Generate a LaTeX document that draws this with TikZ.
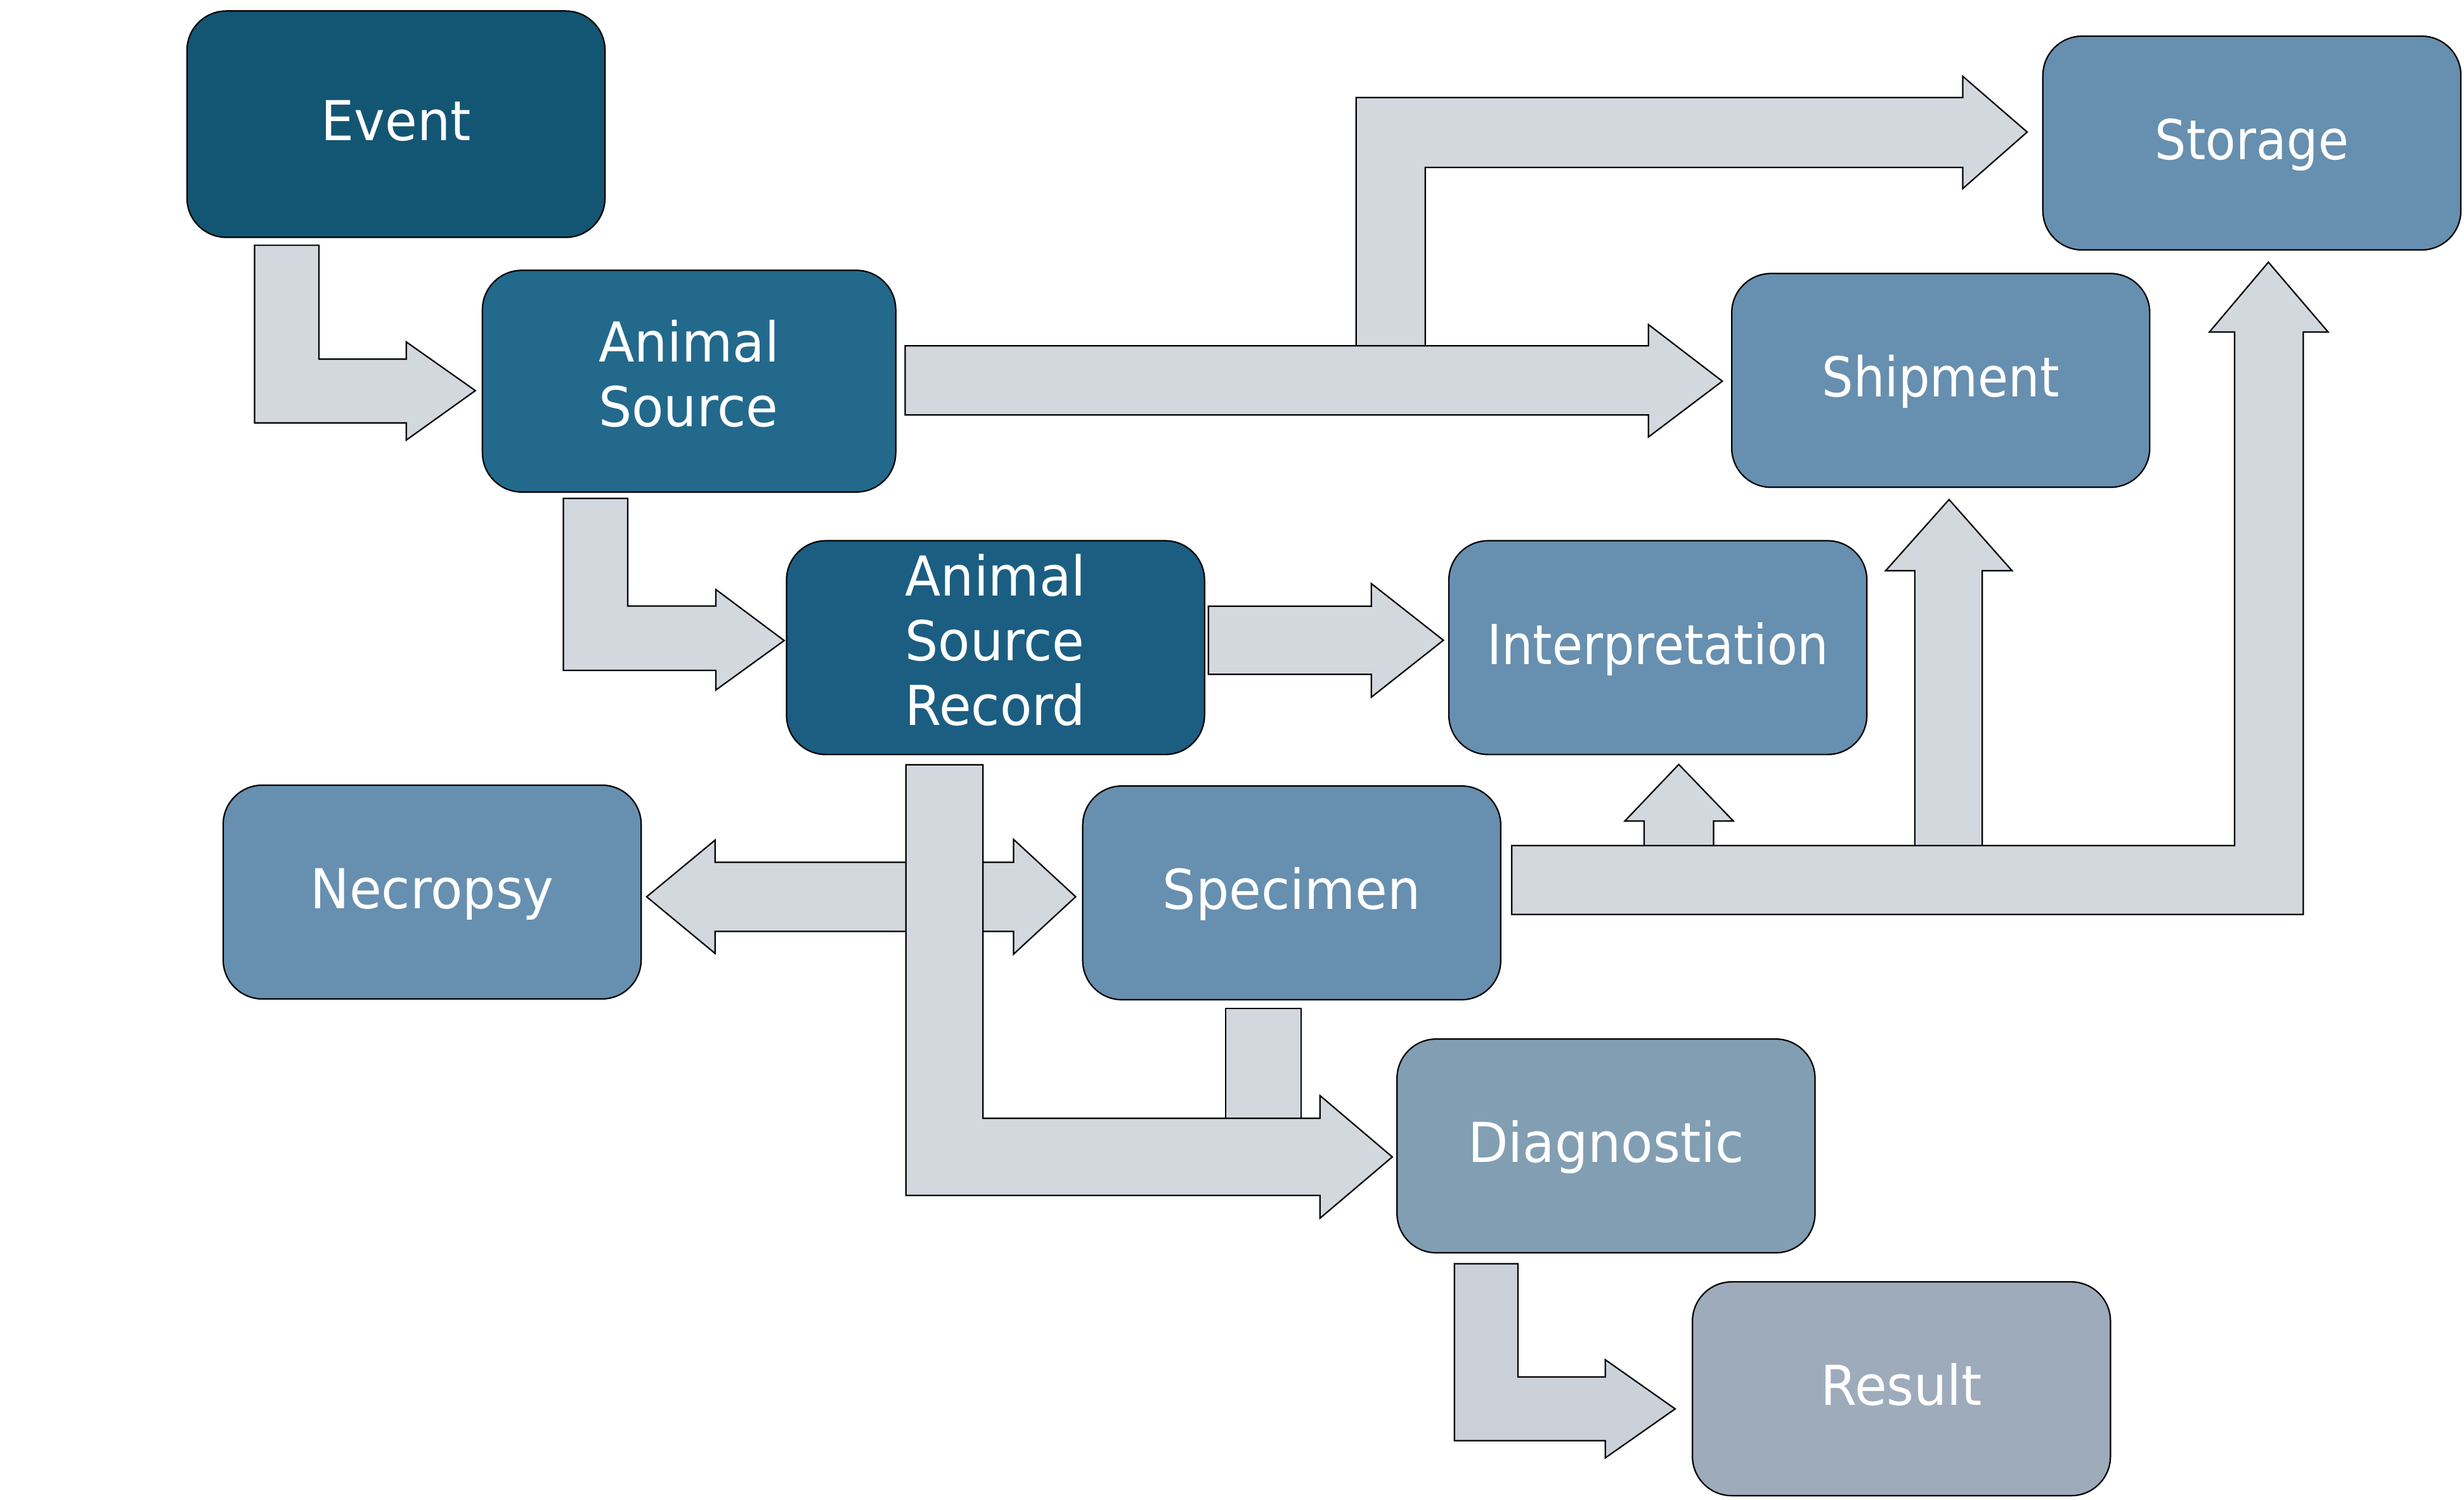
\documentclass[tikz,border=0pt]{standalone}
\usepackage{fontspec}
\setmainfont{DejaVu Sans}[FakeStretch=0.9]
\newfontfamily\labelB{DejaVu Sans}[FakeStretch=0.95]
\definecolor{cEvent}{HTML}{135673}
\definecolor{cAS}{HTML}{22698C}
\definecolor{cASR}{HTML}{1B5E82}
\definecolor{cMid}{HTML}{678FAF}
\definecolor{cDiag}{HTML}{829EB3}
\definecolor{cRes}{HTML}{9DABBB}
\definecolor{cArr}{HTML}{D3D8DF}
\definecolor{cArrB}{HTML}{CAD1D9}
\begin{document}
\begin{tikzpicture}[x=1pt,y=-1pt,
  box/.style={draw=black, line width=0.9pt, rounded corners=25pt,
    minimum width=266pt, minimum height=136pt, text=white,
    font=\fontsize{35}{41}\selectfont, inner sep=0pt},
  wide/.style={text height=26pt, text depth=5pt},
  narrow/.style={text height=26pt, text depth=5pt, font=\fontsize{35}{41}\selectfont\labelB},
  multi/.style={font=\fontsize{35}{41}\selectfont\labelB},
  blk/.style={fill=cArr, draw=black, line width=0.9pt, line join=miter}]
\useasboundingbox (0,0) rectangle (1568,954);

% ---- boxes ----
\node[box, narrow, fill=cEvent, minimum height=144pt] (event) at (252,79) {Event};
\node[box, multi, fill=cAS, minimum width=263pt, minimum height=141pt] (as) at (438.5,242.5)
  {\raisebox{3pt}{\begin{tabular}{@{}l@{}}Animal\\Source\end{tabular}}};
\node[box, multi, fill=cASR] (asr) at (633.5,412)
  {\raisebox{3pt}{\begin{tabular}{@{}l@{}}Animal\\Source\\Record\end{tabular}}};
\node[box, wide, fill=cMid] (storage) at (1433,91) {Storage};
\node[box, wide, fill=cMid] (ship) at (1235,242) {Shipment};
\node[box, wide, fill=cMid] (interp) at (1055,412) {Interpretation};
\node[box, narrow, fill=cMid] (necropsy) at (275,567.5) {Necropsy};
\node[box, narrow, fill=cMid] (spec) at (822,568) {Specimen};
\node[box, narrow, fill=cDiag] (diag) at (1022,729) {Diagnostic};
\node[box, narrow, fill=cRes] (result) at (1210,883.5) {Result};

% ---- block arrows ----
% Event -> Animal Source
\draw[blk] (162,156) -- (203,156) -- (203,228.5) -- (258.5,228.5) -- (258.5,217.5)
  -- (302.5,248.5) -- (258.5,280) -- (258.5,269) -- (162,269) -- cycle;
% Animal Source -> Storage (branch, under main arrow)
\draw[blk] (863,221) -- (863,62) -- (1249,62) -- (1249,48.5) -- (1290,84)
  -- (1249,120) -- (1249,106.5) -- (907,106.5) -- (907,221);
% Animal Source -> Shipment
\draw[blk] (576,220) -- (1049,220) -- (1049,206.5) -- (1096,242.5) -- (1049,278)
  -- (1049,264) -- (576,264) -- cycle;
% Animal Source -> Animal Source Record
\draw[blk] (358.5,317) -- (399.5,317) -- (399.5,385.5) -- (455.5,385.5) -- (455.5,375)
  -- (499,407.5) -- (455.5,439) -- (455.5,426.5) -- (358.5,426.5) -- cycle;
% Animal Source Record -> Interpretation
\draw[blk] (769,385.6) -- (872.7,385.6) -- (872.7,371.3) -- (918.5,407.3) -- (872.7,443.5)
  -- (872.7,429) -- (769,429) -- cycle;
% Necropsy <-> Specimen
\draw[blk] (411.5,570.5) -- (455,534.5) -- (455,548.5) -- (645,548.5) -- (645,534)
  -- (684.5,570.5) -- (645,607) -- (645,592.5) -- (455,592.5) -- (455,606.5) -- cycle;
% Specimen -> Diagnostic stem
\draw[blk] (780,712) -- (780,641.5) -- (828,641.5) -- (828,712);
% Animal Source Record -> Diagnostic
\draw[blk] (576.5,486.5) -- (625.5,486.5) -- (625.5,711.5) -- (840,711.5) -- (840,697)
  -- (886,736) -- (840,775) -- (840,760.5) -- (576.5,760.5) -- cycle;
% Diagnostic -> Result
\draw[blk, fill=cArrB] (925.5,804) -- (966,804) -- (966,876) -- (1021.5,876) -- (1021.5,865)
  -- (1066,896.3) -- (1021.5,927.5) -- (1021.5,916.5) -- (925.5,916.5) -- cycle;
% Specimen -> Interpretation (branch)
\draw[blk] (1046.3,539) -- (1046.3,522.3) -- (1034,522.3) -- (1068.3,486.3) -- (1103,522.3)
  -- (1090.4,522.3) -- (1090.4,539);
% Specimen -> Shipment (branch)
\draw[blk] (1218.5,539) -- (1218.5,363) -- (1200,363) -- (1240.3,317.8) -- (1280.3,363)
  -- (1261.4,363) -- (1261.4,539);
% Specimen -> Storage
\draw[blk] (962,538) -- (1422,538) -- (1422,211.2) -- (1406,211.2) -- (1443.5,166.8)
  -- (1481.5,211.2) -- (1465.7,211.2) -- (1465.7,581.7) -- (962,581.7) -- cycle;
\end{tikzpicture}
\end{document}
